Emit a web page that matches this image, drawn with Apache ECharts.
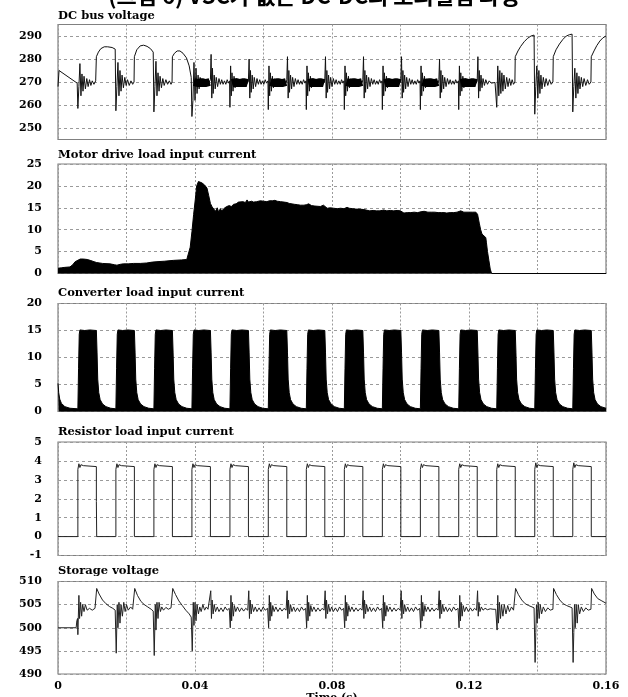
<!DOCTYPE html>
<html><head><meta charset="utf-8">
<script src="https://cdn.jsdelivr.net/npm/echarts@6/dist/echarts.min.js"></script>
<style>html,body{margin:0;padding:0;background:#fff}#c{width:628px;height:697px}</style>
</head><body><div id="c"></div><script>
const figureTitle = '(그림 6) VSC가 없는 DC-DC의 모의실험 파형';
const panelTitles = ['DC bus voltage','Motor drive load input current','Converter load input current','Resistor load input current','Storage voltage'];
const xTickLabels = ['0','0.04','0.08','0.12','0.16'];
const xAxisName = 'Time (s)';
const busTicks = [250,260,270,280,290];
const motorTicks = [0,5,10,15,20,25];
const convTicks = [0,5,10,15,20];
const resTicks = [-1,0,1,2,3,4,5];
const storTicks = [490,495,500,505,510];

const busVoltage = [
[0,268],[0.0003,275],[0.0056,269.5],
[0.0058,258.5],[0.0061,268],[0.0064,278],[0.0067,264],[0.0070,273.5],[0.0073,266],[0.0076,272.5],[0.0080,267],[0.0084,271.5],[0.0088,268],[0.0092,271],[0.0096,268.5],[0.0100,270.5],[0.0105,269],[0.0110,270.5],
[0.0112,281],[0.0118,283],[0.0125,284.5],[0.0135,285.3],[0.0145,285.3],[0.0158,285],[0.0167,284.3],
[0.0169,257.5],[0.0172,268],[0.0175,278.5],[0.0178,264],[0.0181,275],[0.0184,266],[0.0187,273],[0.0191,267.5],[0.0195,272],[0.0199,268.5],[0.0203,271],[0.0208,268.5],[0.0213,270.5],[0.0218,269],[0.0222,270],
[0.0223,281],[0.0230,284],[0.0240,285.7],[0.0250,286],[0.0260,285.5],[0.0270,284.5],[0.0278,283],
[0.0280,257],[0.0283,268],[0.0286,279],[0.0289,264],[0.0292,274],[0.0295,266],[0.0298,272.5],[0.0302,267.5],[0.0306,271.5],[0.0310,268.5],[0.0315,271],[0.0320,269],[0.0325,270.5],[0.0330,269],[0.0333,270],
[0.0334,281],[0.0340,282.5],[0.0348,283.5],[0.0356,283.5],[0.0365,282.5],[0.0375,280.5],[0.0383,277],[0.0389,272],
[0.0391,255],[0.0394,262],[0.0397,278.5],[0.0400,262],[0.0403,276],[0.0406,265],[0.0409,273],[0.0412,267],[0.0415,272],[0.0420,268.5],[0.0425,271],[0.0430,269],[0.0435,270.5],[0.0440,269.5],[0.0444,270],
[0.0445,271],[0.0447,282],[0.0449,263],[0.0451,276],[0.0453,265],[0.0456,273],[0.0459,267],[0.0462,272],[0.0466,268],[0.0470,271.5],[0.0474,269],[0.0478,271],[0.0482,269],[0.0486,270.5],[0.0490,269],[0.0494,271],[0.0498,269.5],[0.0501,270.5],
[0.0502,259],[0.0504,277],[0.0506,264],[0.0508,274],[0.0511,266],[0.0514,272.5],[0.0517,267.5],[0.0521,271.5],[0.0526,268.5],[0.0532,271],[0.0538,269],[0.0545,271],[0.0550,269],[0.0555,270],
[0.0556,271],[0.0558,280],[0.0560,263],[0.0562,275],[0.0564,265.5],[0.0567,273],[0.0570,267],[0.0573,272],[0.0577,268],[0.0581,271.5],[0.0585,269],[0.0589,271],[0.0593,269],[0.0597,270.5],[0.0601,269],[0.0605,271],[0.0609,269.5],[0.0613,270.5],
[0.0614,258],[0.0616,277],[0.0618,264],[0.0620,274],[0.0623,266],[0.0626,272.5],[0.0629,267.5],[0.0633,271.5],[0.0638,268.5],[0.0644,271],[0.0650,269],[0.0657,271],[0.0662,269],[0.0667,270],
[0.0668,271],[0.0670,281],[0.0672,263],[0.0674,275],[0.0676,265.5],[0.0679,273],[0.0682,267],[0.0685,272],[0.0689,268],[0.0693,271.5],[0.0697,269],[0.0701,271],[0.0705,269],[0.0709,270.5],[0.0713,269],[0.0717,271],[0.0721,269.5],[0.0724,270.5],
[0.0725,258],[0.0727,277],[0.0729,264],[0.0731,274],[0.0734,266],[0.0737,272.5],[0.0740,267.5],[0.0744,271.5],[0.0749,268.5],[0.0755,271],[0.0761,269],[0.0768,271],[0.0773,269],[0.0778,270],
[0.0779,271],[0.0781,281],[0.0783,263],[0.0785,275],[0.0787,265.5],[0.0790,273],[0.0793,267],[0.0796,272],[0.0800,268],[0.0804,271.5],[0.0808,269],[0.0812,271],[0.0816,269],[0.0820,270.5],[0.0824,269],[0.0828,271],[0.0832,269.5],[0.0835,270.5],
[0.0836,258],[0.0838,277],[0.0840,264],[0.0842,274],[0.0845,266],[0.0848,272.5],[0.0851,267.5],[0.0855,271.5],[0.0860,268.5],[0.0866,271],[0.0872,269],[0.0879,271],[0.0884,269],[0.0889,270],
[0.0890,271],[0.0892,281],[0.0894,263],[0.0896,275],[0.0898,265.5],[0.0901,273],[0.0904,267],[0.0907,272],[0.0911,268],[0.0915,271.5],[0.0919,269],[0.0923,271],[0.0927,269],[0.0931,270.5],[0.0935,269],[0.0939,271],[0.0943,269.5],[0.0946,270.5],
[0.0947,258],[0.0949,277],[0.0951,264],[0.0953,274],[0.0956,266],[0.0959,272.5],[0.0962,267.5],[0.0966,271.5],[0.0971,268.5],[0.0977,271],[0.0983,269],[0.0990,271],[0.0995,269],[0.1000,270],
[0.1001,271],[0.1003,281],[0.1005,263],[0.1007,275],[0.1009,265.5],[0.1012,273],[0.1015,267],[0.1018,272],[0.1022,268],[0.1026,271.5],[0.1030,269],[0.1034,271],[0.1038,269],[0.1042,270.5],[0.1046,269],[0.1050,271],[0.1054,269.5],[0.1057,270.5],
[0.1058,258],[0.1060,277],[0.1062,264],[0.1064,274],[0.1067,266],[0.1070,272.5],[0.1073,267.5],[0.1077,271.5],[0.1082,268.5],[0.1088,271],[0.1094,269],[0.1101,271],[0.1106,269],[0.1111,270],
[0.1112,271],[0.1114,280],[0.1116,263],[0.1118,275],[0.1120,265.5],[0.1123,273],[0.1126,267],[0.1129,272],[0.1133,268],[0.1137,271.5],[0.1141,269],[0.1145,271],[0.1149,269],[0.1153,270.5],[0.1157,269],[0.1161,271],[0.1165,269.5],[0.1169,270.5],
[0.1170,258],[0.1172,277],[0.1174,264],[0.1176,274],[0.1179,266],[0.1182,272.5],[0.1185,267.5],[0.1189,271.5],[0.1194,268.5],[0.1200,271],[0.1206,269],[0.1213,271],[0.1218,269],[0.1223,270],
[0.1224,271],[0.1226,281],[0.1228,263],[0.1230,275],[0.1232,266],[0.1235,273],[0.1238,267.5],[0.1241,271.5],[0.1245,268.5],[0.1249,271],[0.1254,269],[0.1259,270.5],[0.1265,269.5],[0.1270,270.3],[0.1276,269.8],[0.1280,270.2],
[0.1281,259],[0.1284,277],[0.1287,264],[0.1290,275],[0.1293,265],[0.1296,274],[0.1299,266],[0.1302,273],[0.1306,267],[0.1310,272],[0.1314,268],[0.1318,271.5],[0.1322,268.5],[0.1326,271],[0.1330,269],[0.1334,270],
[0.1335,281],[0.1343,283.5],[0.1351,285.5],[0.1361,287.5],[0.1371,289],[0.1381,290],[0.1390,290.4],
[0.1392,256],[0.1395,268],[0.1398,277],[0.1401,263],[0.1404,275],[0.1407,265],[0.1410,273],[0.1413,267],[0.1417,272],[0.1421,268],[0.1425,271.5],[0.1430,268.5],[0.1435,271],[0.1440,269],[0.1445,270],
[0.1446,281],[0.1454,284],[0.1464,286.5],[0.1474,288.5],[0.1484,290],[0.1494,290.6],[0.1501,290.8],
[0.1503,257],[0.1506,268],[0.1509,276],[0.1512,263],[0.1515,274],[0.1518,265],[0.1521,272.5],[0.1524,267],[0.1528,272],[0.1532,268],[0.1536,271.5],[0.1541,268.5],[0.1546,271],[0.1551,269],[0.1556,270],
[0.1557,281],[0.1565,283.5],[0.1573,285.8],[0.1582,287.8],[0.1591,289.2],[0.1600,290]
];

const busRippleBand = [
[0.0397,270],[0.0410,269.5],[0.0420,270],[0.0430,269.5],[0.0443,270],[0.0444,'-'],
[0.0508,269.5],[0.0520,270],[0.0530,269.5],[0.0542,270],[0.0554,269.5],[0.0555,'-'],
[0.0620,270],[0.0632,269.5],[0.0642,270],[0.0654,269.5],[0.0666,270],[0.0667,'-'],
[0.0731,269.5],[0.0743,270],[0.0753,269.5],[0.0765,270],[0.0777,269.5],[0.0778,'-'],
[0.0842,270],[0.0854,269.5],[0.0864,270],[0.0876,269.5],[0.0888,270],[0.0889,'-'],
[0.0953,269.5],[0.0965,270],[0.0975,269.5],[0.0987,270],[0.0999,269.5],[0.1000,'-'],
[0.1064,270],[0.1076,269.5],[0.1086,270],[0.1098,269.5],[0.1110,270],[0.1111,'-'],
[0.1176,269.5],[0.1188,270],[0.1198,269.5],[0.1210,270],[0.1222,269.5]
];

const motorCurrent = [
[0,1.2],[0.0010,1.3],[0.0020,1.4],[0.0035,1.5],[0.0043,2.0],[0.0050,2.7],[0.0055,3.0],[0.0065,3.3],[0.0074,3.3],[0.0085,3.2],[0.0094,3.0],[0.0105,2.7],[0.0113,2.5],[0.0130,2.3],[0.0152,2.2],[0.0165,2.0],[0.0172,1.9],[0.0182,2.1],[0.0191,2.2],[0.0205,2.2],[0.0220,2.3],[0.0240,2.3],[0.0259,2.4],[0.0275,2.6],[0.0289,2.7],[0.0310,2.8],[0.0337,3.0],[0.0360,3.1],[0.0376,3.2],[0.0381,3.3],
[0.0386,6],[0.0391,9.5],[0.0396,13.5],[0.0401,17],[0.0405,20],[0.0410,21],[0.0415,20.8],[0.0420,20.7],[0.0428,20.2],[0.0435,19.5],[0.0440,17.8],[0.0445,16],[0.0450,15.2],[0.0454,14.8],[0.0460,14.2],[0.0465,15],[0.0469,14],[0.0474,14.8],[0.0478,14.3],[0.0482,14.2],[0.0487,15],[0.0493,15.3],[0.0500,15.5],[0.0506,15.3],[0.0513,15.8],[0.0520,15.9],[0.0527,16.3],[0.0532,16.2],[0.0540,16.4],[0.0547,16.2],[0.0552,16.8],[0.0556,16.3],[0.0565,16.5],[0.0571,16.3],[0.0580,16.4],[0.0585,16.8],[0.0591,16.6],[0.0600,16.5],[0.0610,16.4],[0.0617,16.6],[0.0622,17],[0.0627,16.6],[0.0633,16.7],[0.0640,16.5],[0.0650,16.4],[0.0660,16.3],[0.0669,16.2],[0.0675,16.0],[0.0679,15.8],[0.0690,15.8],[0.0700,15.7],[0.0708,15.6],[0.0718,15.6],[0.0725,15.7],[0.0732,15.9],[0.0740,15.5],[0.0750,15.4],[0.0766,15.3],[0.0775,15.6],[0.0780,15.4],[0.0786,14.9],[0.0795,15.0],[0.0805,14.9],[0.0815,14.8],[0.0825,14.9],[0.0835,14.8],[0.0844,15.1],[0.0850,14.9],[0.0860,14.8],[0.0870,14.7],[0.0880,14.7],[0.0893,14.6],[0.0898,14.2],[0.0910,14.3],[0.0920,14.4],[0.0930,14.3],[0.0940,14.3],[0.0951,14.5],[0.0960,14.3],[0.0970,14.4],[0.0980,14.3],[0.0990,14.4],[0.1000,14.3],[0.1010,13.8],[0.1020,13.9],[0.1030,13.9],[0.1040,14.0],[0.1050,13.9],[0.1060,14.1],[0.1069,14.2],[0.1080,14.0],[0.1090,14.0],[0.1100,14.0],[0.1110,13.9],[0.1120,13.9],[0.1127,13.9],[0.1135,13.8],[0.1145,13.9],[0.1155,13.9],[0.1165,14.0],[0.1176,14.3],[0.1185,14.0],[0.1200,14.0],[0.1210,14.0],[0.1220,14.0],[0.1225,13.5],[0.1230,11.5],[0.1234,10],[0.1238,9],[0.1242,8.7],[0.1249,8.2],[0.1251,7],[0.1254,5],[0.1258,3],[0.1262,1.0],[0.1266,0],[0.1600,0]
];

const converterCurrent = [
[0,5.2],[0.0002,3.5],[0.0005,2.3],[0.0010,1.5],[0.0020,0.9],[0.0035,0.6],
[0.0058,0.5],[0.0060,8],[0.0062,14.3],[0.0064,15.1],[0.0078,15],[0.0093,15.1],[0.0112,15],[0.0114,11],[0.0116,6],[0.0119,3.5],[0.0123,2.2],[0.0130,1.4],[0.0140,0.9],[0.0154,0.6],
[0.0169,0.5],[0.0171,8],[0.0173,14.3],[0.0175,15.1],[0.0189,15],[0.0204,15.1],[0.0223,15],[0.0225,11],[0.0227,6],[0.0230,3.5],[0.0234,2.2],[0.0241,1.4],[0.0251,0.9],[0.0265,0.6],
[0.0280,0.5],[0.0282,8],[0.0284,14.3],[0.0286,15.1],[0.0300,15],[0.0315,15.1],[0.0334,15],[0.0336,11],[0.0338,6],[0.0341,3.5],[0.0345,2.2],[0.0352,1.4],[0.0362,0.9],[0.0376,0.6],
[0.0391,0.5],[0.0393,8],[0.0395,14.3],[0.0397,15.1],[0.0411,15],[0.0426,15.1],[0.0445,15],[0.0447,11],[0.0449,6],[0.0452,3.5],[0.0456,2.2],[0.0463,1.4],[0.0473,0.9],[0.0487,0.6],
[0.0502,0.5],[0.0504,8],[0.0506,14.3],[0.0508,15.1],[0.0522,15],[0.0537,15.1],[0.0556,15],[0.0558,11],[0.0560,6],[0.0563,3.5],[0.0567,2.2],[0.0574,1.4],[0.0584,0.9],[0.0598,0.6],
[0.0614,0.5],[0.0616,8],[0.0618,14.3],[0.0620,15.1],[0.0634,15],[0.0649,15.1],[0.0668,15],[0.0670,11],[0.0672,6],[0.0675,3.5],[0.0679,2.2],[0.0686,1.4],[0.0696,0.9],[0.0710,0.6],
[0.0725,0.5],[0.0727,8],[0.0729,14.3],[0.0731,15.1],[0.0745,15],[0.0760,15.1],[0.0779,15],[0.0781,11],[0.0783,6],[0.0786,3.5],[0.0790,2.2],[0.0797,1.4],[0.0807,0.9],[0.0821,0.6],
[0.0836,0.5],[0.0838,8],[0.0840,14.3],[0.0842,15.1],[0.0856,15],[0.0871,15.1],[0.0890,15],[0.0892,11],[0.0894,6],[0.0897,3.5],[0.0901,2.2],[0.0908,1.4],[0.0918,0.9],[0.0932,0.6],
[0.0947,0.5],[0.0949,8],[0.0951,14.3],[0.0953,15.1],[0.0967,15],[0.0982,15.1],[0.1001,15],[0.1003,11],[0.1005,6],[0.1008,3.5],[0.1012,2.2],[0.1019,1.4],[0.1029,0.9],[0.1043,0.6],
[0.1058,0.5],[0.1060,8],[0.1062,14.3],[0.1064,15.1],[0.1078,15],[0.1093,15.1],[0.1112,15],[0.1114,11],[0.1116,6],[0.1119,3.5],[0.1123,2.2],[0.1130,1.4],[0.1140,0.9],[0.1154,0.6],
[0.1170,0.5],[0.1172,8],[0.1174,14.3],[0.1176,15.1],[0.1190,15],[0.1205,15.1],[0.1224,15],[0.1226,11],[0.1228,6],[0.1231,3.5],[0.1235,2.2],[0.1242,1.4],[0.1252,0.9],[0.1266,0.6],
[0.1281,0.5],[0.1283,8],[0.1285,14.3],[0.1287,15.1],[0.1301,15],[0.1316,15.1],[0.1335,15],[0.1337,11],[0.1339,6],[0.1342,3.5],[0.1346,2.2],[0.1353,1.4],[0.1363,0.9],[0.1377,0.6],
[0.1392,0.5],[0.1394,8],[0.1396,14.3],[0.1398,15.1],[0.1412,15],[0.1427,15.1],[0.1446,15],[0.1448,11],[0.1450,6],[0.1453,3.5],[0.1457,2.2],[0.1464,1.4],[0.1474,0.9],[0.1488,0.6],
[0.1503,0.5],[0.1505,8],[0.1507,14.3],[0.1509,15.1],[0.1523,15],[0.1538,15.1],[0.1557,15],[0.1559,11],[0.1561,6],[0.1564,3.5],[0.1568,2.2],[0.1575,1.4],[0.1585,0.9],[0.1600,0.6]
];

const resistorCurrent = [
[0,0],
[0.0058,0],[0.0058,3.55],[0.0061,3.85],[0.0064,3.65],[0.0067,3.8],[0.0070,3.7],[0.0074,3.75],[0.0078,3.7],[0.0112,3.7],[0.0112,1.85],[0.0113,0],
[0.0169,0],[0.0169,3.55],[0.0172,3.85],[0.0175,3.65],[0.0178,3.8],[0.0181,3.7],[0.0185,3.75],[0.0189,3.7],[0.0223,3.7],[0.0223,0],
[0.0280,0],[0.0280,3.55],[0.0283,3.85],[0.0286,3.65],[0.0289,3.8],[0.0292,3.7],[0.0296,3.75],[0.0300,3.7],[0.0334,3.7],[0.0334,0],
[0.0391,0],[0.0391,3.55],[0.0394,3.85],[0.0397,3.65],[0.0400,3.8],[0.0403,3.7],[0.0407,3.75],[0.0411,3.7],[0.0445,3.7],[0.0445,0],
[0.0502,0],[0.0502,3.55],[0.0505,3.85],[0.0508,3.65],[0.0511,3.8],[0.0514,3.7],[0.0518,3.75],[0.0522,3.7],[0.0556,3.7],[0.0556,0],
[0.0614,0],[0.0614,3.55],[0.0617,3.85],[0.0620,3.65],[0.0623,3.8],[0.0626,3.7],[0.0630,3.75],[0.0634,3.7],[0.0668,3.7],[0.0668,0],
[0.0725,0],[0.0725,3.55],[0.0728,3.85],[0.0731,3.65],[0.0734,3.8],[0.0737,3.7],[0.0741,3.75],[0.0745,3.7],[0.0779,3.7],[0.0779,0],
[0.0836,0],[0.0836,3.55],[0.0839,3.85],[0.0842,3.65],[0.0845,3.8],[0.0848,3.7],[0.0852,3.75],[0.0856,3.7],[0.0890,3.7],[0.0890,0],
[0.0947,0],[0.0947,3.55],[0.0950,3.85],[0.0953,3.65],[0.0956,3.8],[0.0959,3.7],[0.0963,3.75],[0.0967,3.7],[0.1001,3.7],[0.1001,0],
[0.1058,0],[0.1058,3.55],[0.1061,3.85],[0.1064,3.65],[0.1067,3.8],[0.1070,3.7],[0.1074,3.75],[0.1078,3.7],[0.1112,3.7],[0.1112,0],
[0.1170,0],[0.1170,3.55],[0.1173,3.85],[0.1176,3.65],[0.1179,3.8],[0.1182,3.7],[0.1186,3.75],[0.1190,3.7],[0.1224,3.7],[0.1224,0],
[0.1281,0],[0.1281,3.55],[0.1284,3.85],[0.1287,3.65],[0.1290,3.8],[0.1293,3.7],[0.1297,3.75],[0.1301,3.7],[0.1335,3.7],[0.1335,0],
[0.1392,0],[0.1392,3.55],[0.1395,3.9],[0.1398,3.65],[0.1401,3.8],[0.1404,3.7],[0.1408,3.75],[0.1412,3.7],[0.1446,3.7],[0.1446,0],
[0.1503,0],[0.1503,3.55],[0.1506,3.9],[0.1509,3.65],[0.1512,3.8],[0.1515,3.7],[0.1519,3.75],[0.1523,3.7],[0.1557,3.7],[0.1557,0],
[0.1600,0]
];

const storageVoltage = [
[0,500],[0.0053,500],[0.0055,501.5],[0.0057,502],
[0.0058,498.5],[0.0061,507],[0.0063,502],[0.0066,505.5],[0.0069,502.5],[0.0072,505],[0.0076,503.5],[0.0080,505],[0.0085,503.8],[0.0092,504.2],[0.0100,503.8],[0.0108,504.2],[0.0111,504.3],
[0.0113,508.5],[0.0120,507.3],[0.0130,506],[0.0140,505.2],[0.0150,504.6],[0.0160,504.2],[0.0167,503.8],
[0.0170,494.5],[0.0173,505],[0.0175,500],[0.0178,505.5],[0.0181,501],[0.0184,505],[0.0188,502.5],[0.0192,505.5],[0.0196,503.5],[0.0200,505],[0.0205,503.8],[0.0212,504.5],[0.0218,504],[0.0222,504.2],
[0.0224,508.5],[0.0232,507],[0.0242,505.7],[0.0252,505],[0.0262,504.5],[0.0272,504],[0.0278,503.6],
[0.0281,494],[0.0284,505],[0.0286,499.5],[0.0289,505.5],[0.0292,502],[0.0295,505.5],[0.0299,503.5],[0.0303,504.5],[0.0308,503.8],[0.0315,504.4],[0.0322,504],[0.0330,504.3],[0.0333,504.3],
[0.0335,508.5],[0.0343,507.2],[0.0353,505.8],[0.0363,504.8],[0.0373,503.8],[0.0383,503],[0.0389,502.3],
[0.0392,495],[0.0395,505.5],[0.0397,500.5],[0.0400,505.5],[0.0403,501.5],[0.0406,505],[0.0410,503],[0.0414,504.5],[0.0418,503.5],[0.0423,505],[0.0428,503.8],[0.0433,504.5],[0.0438,504],[0.0443,504.2],
[0.0446,508],[0.0448,502],[0.0450,506],[0.0453,503],[0.0456,505],[0.0460,503.5],[0.0465,504.5],[0.0470,503.5],[0.0476,504.3],[0.0482,503.5],[0.0488,504.5],[0.0494,503.8],[0.0500,504.2],
[0.0503,500],[0.0505,507],[0.0507,501.5],[0.0509,505.5],[0.0512,502.5],[0.0515,504.8],[0.0519,503.5],[0.0524,504.5],[0.0530,503.5],[0.0536,504.3],[0.0542,503.6],[0.0548,504.2],[0.0554,503.8],
[0.0557,508],[0.0559,502],[0.0561,506],[0.0564,503],[0.0567,505],[0.0571,503.5],[0.0576,504.5],[0.0581,503.5],[0.0587,504.3],[0.0593,503.5],[0.0599,504.5],[0.0605,503.8],[0.0612,504.2],
[0.0615,500],[0.0617,507],[0.0619,501.5],[0.0621,505.5],[0.0624,502.5],[0.0627,504.8],[0.0631,503.5],[0.0636,504.5],[0.0642,503.5],[0.0648,504.3],[0.0654,503.6],[0.0660,504.2],[0.0666,503.8],
[0.0669,508],[0.0671,502],[0.0673,506],[0.0676,503],[0.0679,505],[0.0683,503.5],[0.0688,504.5],[0.0693,503.5],[0.0699,504.3],[0.0705,503.5],[0.0711,504.5],[0.0717,503.8],[0.0723,504.2],
[0.0726,500],[0.0728,507],[0.0730,501.5],[0.0732,505.5],[0.0735,502.5],[0.0738,504.8],[0.0742,503.5],[0.0747,504.5],[0.0753,503.5],[0.0759,504.3],[0.0765,503.6],[0.0771,504.2],[0.0777,503.8],
[0.0780,508],[0.0782,502],[0.0784,506],[0.0787,503],[0.0790,505],[0.0794,503.5],[0.0799,504.5],[0.0804,503.5],[0.0810,504.3],[0.0816,503.5],[0.0822,504.5],[0.0828,503.8],[0.0834,504.2],
[0.0837,500],[0.0839,507],[0.0841,501.5],[0.0843,505.5],[0.0846,502.5],[0.0849,504.8],[0.0853,503.5],[0.0858,504.5],[0.0864,503.5],[0.0870,504.3],[0.0876,503.6],[0.0882,504.2],[0.0888,503.8],
[0.0891,508],[0.0893,502],[0.0895,506],[0.0898,503],[0.0901,505],[0.0905,503.5],[0.0910,504.5],[0.0915,503.5],[0.0921,504.3],[0.0927,503.5],[0.0933,504.5],[0.0939,503.8],[0.0945,504.2],
[0.0948,500],[0.0950,507],[0.0952,501.5],[0.0954,505.5],[0.0957,502.5],[0.0960,504.8],[0.0964,503.5],[0.0969,504.5],[0.0975,503.5],[0.0981,504.3],[0.0987,503.6],[0.0993,504.2],[0.0999,503.8],
[0.1002,508],[0.1004,502],[0.1006,506],[0.1009,503],[0.1012,505],[0.1016,503.5],[0.1021,504.5],[0.1026,503.5],[0.1032,504.3],[0.1038,503.5],[0.1044,504.5],[0.1050,503.8],[0.1056,504.2],
[0.1059,500],[0.1061,507],[0.1063,501.5],[0.1065,505.5],[0.1068,502.5],[0.1071,504.8],[0.1075,503.5],[0.1080,504.5],[0.1086,503.5],[0.1092,504.3],[0.1098,503.6],[0.1104,504.2],[0.1110,503.8],
[0.1113,508],[0.1115,502],[0.1117,506],[0.1120,503],[0.1123,505],[0.1127,503.5],[0.1132,504.5],[0.1137,503.5],[0.1143,504.3],[0.1149,503.5],[0.1155,504.5],[0.1161,503.8],[0.1168,504.2],
[0.1171,500],[0.1173,507],[0.1175,501.5],[0.1177,505.5],[0.1180,502.5],[0.1183,504.8],[0.1187,503.5],[0.1192,504.5],[0.1198,503.5],[0.1204,504.3],[0.1210,503.6],[0.1216,504.2],[0.1222,503.8],
[0.1225,508],[0.1227,502.5],[0.1229,505.5],[0.1232,503.5],[0.1236,504.5],[0.1241,503.8],[0.1247,504.2],[0.1254,503.9],[0.1262,504.1],[0.1270,504],[0.1278,504],
[0.1282,499.5],[0.1284,507],[0.1286,501],[0.1289,505.5],[0.1292,502],[0.1295,505],[0.1299,502.5],[0.1303,505],[0.1308,503],[0.1313,504.8],[0.1318,503.5],[0.1324,504.5],[0.1330,503.8],[0.1334,504.2],
[0.1336,508.5],[0.1344,507.2],[0.1354,506],[0.1364,505.2],[0.1374,504.8],[0.1384,504.5],[0.1390,504.3],
[0.1393,492.5],[0.1395,499],[0.1397,505],[0.1399,501],[0.1402,505.5],[0.1405,502],[0.1408,505],[0.1412,503],[0.1417,504.5],[0.1423,503.5],[0.1430,504.3],[0.1437,503.8],[0.1445,504],
[0.1447,508.5],[0.1455,507.2],[0.1465,506],[0.1475,505.2],[0.1485,504.8],[0.1495,504.5],[0.1501,504.3],
[0.1504,492.5],[0.1506,499],[0.1508,505],[0.1510,500],[0.1513,505],[0.1516,501],[0.1519,505],[0.1523,503],[0.1528,504.5],[0.1534,503.5],[0.1541,504.3],[0.1548,503.8],[0.1556,504],
[0.1558,508.5],[0.1566,507.3],[0.1576,506.3],[0.1588,505.8],[0.1600,505.3]
];

// ---------- layout ----------
const panels = [
  {top: 24.5, height: 115, min: 245, max: 295, interval: 5, ticks: busTicks, split: ['rgba(0,0,0,0)', '#9a9a9a'], titleTop: 10},
  {top: 164, height: 109.5, min: 0, max: 25, interval: 5, ticks: motorTicks, split: ['#9a9a9a'], titleTop: 149},
  {top: 303.5, height: 108, min: 0, max: 20, interval: 5, ticks: convTicks, split: ['#9a9a9a'], titleTop: 287},
  {top: 442, height: 113.5, min: -1, max: 5, interval: 1, ticks: resTicks, split: ['#9a9a9a'], titleTop: 426},
  {top: 581.5, height: 92.5, min: 490, max: 510, interval: 5, ticks: storTicks, split: ['#9a9a9a'], titleTop: 565}
];
const labelFont = {fontFamily: 'DejaVu Serif', fontWeight: 'bold', fontSize: 11, color: '#000'};

const grids = panels.map(p => ({left: 58, right: 22, top: p.top, height: p.height, outerBoundsMode: 'none', containLabel: false,
  show: true, borderColor: '#808080', borderWidth: 1.2, backgroundColor: 'transparent'}));
const xAxes = panels.map((p, i) => ({
  type: 'value', gridIndex: i, min: 0, max: 0.16, interval: 0.02,
  axisLine: {show: false}, axisTick: {show: false},
  splitLine: {show: true, lineStyle: {color: '#9a9a9a', type: [2, 2], width: 1}},
  axisLabel: {show: i === 4, margin: 7, ...labelFont,
    formatter: v => { const k = Math.round(v / 0.04); return Math.abs(v - k * 0.04) < 1e-9 ? xTickLabels[k] : ''; }},
  name: i === 4 ? xAxisName : '', nameLocation: 'middle', nameGap: 18,
  nameTextStyle: {fontFamily: 'DejaVu Serif', fontWeight: 'bold', fontSize: 11, color: '#000', verticalAlign: 'top'}
}));
const yAxes = panels.map((p, i) => ({
  type: 'value', gridIndex: i, min: p.min, max: p.max, interval: p.interval,
  axisLine: {show: false}, axisTick: {show: false},
  splitLine: {show: true, lineStyle: {color: p.split, type: [3, 3], width: 1}},
  axisLabel: {margin: 16, ...labelFont, formatter: v => (p.ticks.indexOf(v) >= 0 ? String(v) : '')}
}));

const lineBase = {type: 'line', showSymbol: false, symbol: 'none', animation: false, silent: true};
const series = [
  {...lineBase, name: 'bus', xAxisIndex: 0, yAxisIndex: 0, data: busVoltage, lineStyle: {color: '#111', width: 1}},
  {...lineBase, name: 'busRipple', xAxisIndex: 0, yAxisIndex: 0, data: busRippleBand, connectNulls: false, lineStyle: {color: '#000', width: 8, cap: 'butt'}},
  {...lineBase, name: 'motor', xAxisIndex: 1, yAxisIndex: 1, data: motorCurrent, lineStyle: {color: '#000', width: 1}, areaStyle: {color: '#000', opacity: 1}},
  {...lineBase, name: 'converter', xAxisIndex: 2, yAxisIndex: 2, data: converterCurrent, lineStyle: {color: '#000', width: 1}, areaStyle: {color: '#000', opacity: 1}},
  {...lineBase, name: 'resistor', xAxisIndex: 3, yAxisIndex: 3, data: resistorCurrent, lineStyle: {color: '#222', width: 1}},
  {...lineBase, name: 'storage', xAxisIndex: 4, yAxisIndex: 4, data: storageVoltage, lineStyle: {color: '#222', width: 1}}
];

const titles = panelTitles.map((t, i) => ({
  text: t, left: 58, top: panels[i].titleTop, padding: 0,
  textStyle: {fontFamily: 'DejaVu Serif', fontWeight: 'bold', fontSize: 11.5, color: '#000'}
}));
titles.push({text: figureTitle, left: 'center', top: -15, padding: 0,
  textStyle: {fontFamily: 'Noto Sans CJK KR', fontWeight: 'bold', fontSize: 22, color: '#000'}});

const chart = echarts.init(document.getElementById('c'), null, {renderer: 'canvas'});
chart.setOption({
  animation: false,
  backgroundColor: '#fff',
  title: titles,
  grid: grids,
  xAxis: xAxes,
  yAxis: yAxes,
  series: series
});
</script></body></html>
